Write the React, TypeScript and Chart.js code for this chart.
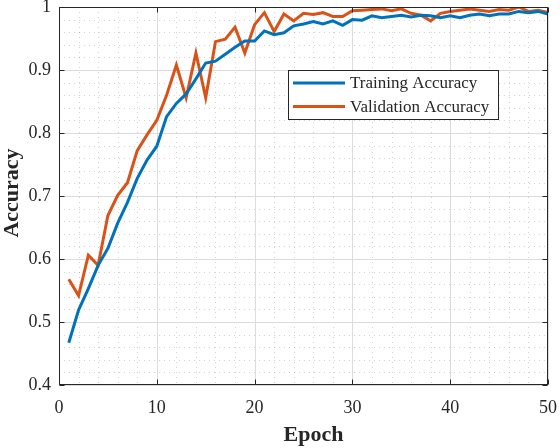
import React, { useEffect, useRef } from "react";
import { Chart, registerables } from "chart.js";

Chart.register(...registerables);

const epochs = Array.from({ length: 50 }, (_, i) => i + 1);

const trainingAccuracy = [
  0.467, 0.519, 0.553, 0.59, 0.617, 0.657, 0.69, 0.728, 0.757, 0.779,
  0.826, 0.847, 0.862, 0.886, 0.911, 0.914, 0.925, 0.936, 0.946, 0.946,
  0.962, 0.956, 0.959, 0.97, 0.973, 0.977, 0.973, 0.978, 0.971, 0.98,
  0.979, 0.986, 0.983, 0.985, 0.987, 0.984, 0.987, 0.986, 0.983, 0.986,
  0.983, 0.987, 0.989, 0.986, 0.989, 0.989, 0.993, 0.991, 0.993, 0.989,
];

const validationAccuracy = [
  0.568, 0.542, 0.606, 0.59, 0.669, 0.701, 0.721, 0.772, 0.797, 0.82,
  0.86, 0.908, 0.856, 0.927, 0.856, 0.945, 0.949, 0.968, 0.927, 0.972,
  0.991, 0.961, 0.989, 0.978, 0.99, 0.988, 0.991, 0.985, 0.985, 0.994,
  0.995, 0.996, 0.997, 0.994, 0.997, 0.99, 0.987, 0.978, 0.99, 0.993,
  0.995, 0.997, 0.995, 0.993, 0.996, 0.995, 1.0, 0.993, 0.995, 0.991,
];

const xTicks = [0, 10, 20, 30, 40, 50];
const yTicks = [0.4, 0.5, 0.6, 0.7, 0.8, 0.9, 1.0];
const seriesLabels = ["Training Accuracy", "Validation Accuracy"];
const seriesColors = ["#0072BD", "#D95319"];
const xTitle = "Epoch";
const yTitle = "Accuracy";

const FONT = "'Liberation Serif', 'DejaVu Serif', serif";
const AXIS_COLOR = "#262626";

const matlabAxes = {
  id: "matlabAxes",
  beforeDatasetsDraw(chart: any) {
    const { ctx, chartArea: a, scales } = chart;
    const x = scales.x;
    const y = scales.y;
    ctx.save();
    ctx.lineWidth = 1;
    // minor grid (dotted)
    ctx.strokeStyle = "rgba(38,38,38,0.2)";
    ctx.setLineDash([1, 4]);
    for (let i = 0; i <= 25; i++) {
      if (i % 5 === 0) continue;
      const px = Math.round(x.getPixelForValue(i * 2)) + 0.5;
      ctx.beginPath();
      ctx.moveTo(px, a.top);
      ctx.lineTo(px, a.bottom);
      ctx.stroke();
    }
    for (let i = 0; i <= 30; i++) {
      if (i % 5 === 0) continue;
      const py = Math.round(y.getPixelForValue(0.4 + i * 0.02)) + 0.5;
      ctx.beginPath();
      ctx.moveTo(a.left, py);
      ctx.lineTo(a.right, py);
      ctx.stroke();
    }
    // major grid
    ctx.setLineDash([]);
    ctx.strokeStyle = "#dcdcdc";
    xTicks.forEach((v) => {
      const px = Math.round(x.getPixelForValue(v)) + 0.5;
      ctx.beginPath();
      ctx.moveTo(px, a.top);
      ctx.lineTo(px, a.bottom);
      ctx.stroke();
    });
    yTicks.forEach((v) => {
      const py = Math.round(y.getPixelForValue(v)) + 0.5;
      ctx.beginPath();
      ctx.moveTo(a.left, py);
      ctx.lineTo(a.right, py);
      ctx.stroke();
    });
    ctx.restore();
  },
  afterDatasetsDraw(chart: any) {
    const { ctx, chartArea: a, scales } = chart;
    const x = scales.x;
    const y = scales.y;
    ctx.save();
    // box
    ctx.strokeStyle = AXIS_COLOR;
    ctx.lineWidth = 1;
    const L = Math.round(a.left) + 0.5;
    const R = Math.round(a.right) - 0.5;
    const T = Math.round(a.top) + 0.5;
    const B = Math.round(a.bottom) - 0.5;
    ctx.strokeRect(L, T, R - L, B - T);
    // inward ticks
    const tl = 5;
    xTicks.forEach((v) => {
      const px = Math.round(x.getPixelForValue(v)) + 0.5;
      ctx.beginPath();
      ctx.moveTo(px, B);
      ctx.lineTo(px, B - tl);
      ctx.moveTo(px, T);
      ctx.lineTo(px, T + tl);
      ctx.stroke();
    });
    yTicks.forEach((v) => {
      const py = Math.round(y.getPixelForValue(v)) + 0.5;
      ctx.beginPath();
      ctx.moveTo(L, py);
      ctx.lineTo(L + tl, py);
      ctx.moveTo(R, py);
      ctx.lineTo(R - tl, py);
      ctx.stroke();
    });

    // legend
    const lx = a.left + 229;
    const ly = a.top + 63;
    const lw = 210;
    const lh = 49;
    ctx.fillStyle = "#ffffff";
    ctx.fillRect(lx, ly, lw, lh);
    ctx.strokeStyle = AXIS_COLOR;
    ctx.lineWidth = 1;
    ctx.strokeRect(Math.round(lx) + 0.5, Math.round(ly) + 0.5, lw, lh);
    ctx.font = `17px ${FONT}`;
    ctx.textBaseline = "middle";
    ctx.textAlign = "left";
    seriesLabels.forEach((label, i) => {
      const cy = ly + 13 + i * 23.5;
      ctx.strokeStyle = seriesColors[i];
      ctx.lineWidth = 3;
      ctx.beginPath();
      ctx.moveTo(lx + 5, cy);
      ctx.lineTo(lx + 57, cy);
      ctx.stroke();
      ctx.fillStyle = AXIS_COLOR;
      ctx.fillText(label, lx + 62, cy + 1);
    });
    ctx.restore();
  },
  afterDraw(chart: any) {
    const { ctx, chartArea: a } = chart;
    ctx.save();
    ctx.fillStyle = AXIS_COLOR;
    ctx.font = `bold 22px ${FONT}`;
    ctx.textAlign = "center";
    ctx.textBaseline = "middle";
    ctx.fillText(xTitle, (a.left + a.right) / 2 + 10, 435);
    ctx.translate(12.5, (a.top + a.bottom) / 2 - 3);
    ctx.rotate(-Math.PI / 2);
    ctx.fillText(yTitle, 0, 0);
    ctx.restore();
  },
};

export default function App() {
  const canvasRef = useRef<HTMLCanvasElement | null>(null);

  useEffect(() => {
    const canvas = canvasRef.current;
    if (!canvas) return;
    const chart = new Chart(canvas, {
      type: "line",
      data: {
        datasets: [
          {
            label: seriesLabels[0],
            data: epochs.map((e, i) => ({ x: e, y: trainingAccuracy[i] })),
            borderColor: seriesColors[0],
            backgroundColor: seriesColors[0],
            borderWidth: 3,
            pointRadius: 0,
            tension: 0,
          },
          {
            label: seriesLabels[1],
            data: epochs.map((e, i) => ({ x: e, y: validationAccuracy[i] })),
            borderColor: seriesColors[1],
            backgroundColor: seriesColors[1],
            borderWidth: 3,
            pointRadius: 0,
            tension: 0,
          },
        ],
      },
      options: {
        responsive: false,
        animation: false,
        layout: { padding: { top: 7, right: 12, left: 0, bottom: 0 } },
        plugins: {
          legend: { display: false },
          tooltip: { enabled: false },
        },
        scales: {
          x: {
            type: "linear",
            min: 0,
            max: 50,
            afterBuildTicks: (scale: any) => {
              scale.ticks = xTicks.map((v) => ({ value: v }));
            },
            afterFit: (scale: any) => {
              scale.height = 63;
              scale.paddingLeft = 0;
              scale.paddingRight = 0;
            },
            grid: { display: false, drawTicks: false },
            border: { display: false },
            ticks: {
              padding: 12,
              color: AXIS_COLOR,
              font: { family: FONT, size: 18 },
              maxRotation: 0,
              autoSkip: false,
              callback: (v: any) => String(v),
            },
          },
          y: {
            type: "linear",
            min: 0.4,
            max: 1,
            afterBuildTicks: (scale: any) => {
              scale.ticks = yTicks.map((v) => ({ value: v }));
            },
            afterFit: (scale: any) => {
              scale.width = 59;
              scale.paddingTop = 0;
              scale.paddingBottom = 0;
            },
            grid: { display: false, drawTicks: false },
            border: { display: false },
            ticks: {
              padding: 8,
              color: AXIS_COLOR,
              font: { family: FONT, size: 18 },
              autoSkip: false,
              callback: (v: any) => (Number(v) === 1 ? "1" : Number(v).toFixed(1)),
            },
          },
        },
      },
      plugins: [matlabAxes],
    });
    return () => chart.destroy();
  }, []);

  return (
    <div style={{ position: "fixed", left: 0, top: 0, width: 560, height: 448, background: "#ffffff" }}>
      <canvas ref={canvasRef} width={560} height={448} />
    </div>
  );
}
